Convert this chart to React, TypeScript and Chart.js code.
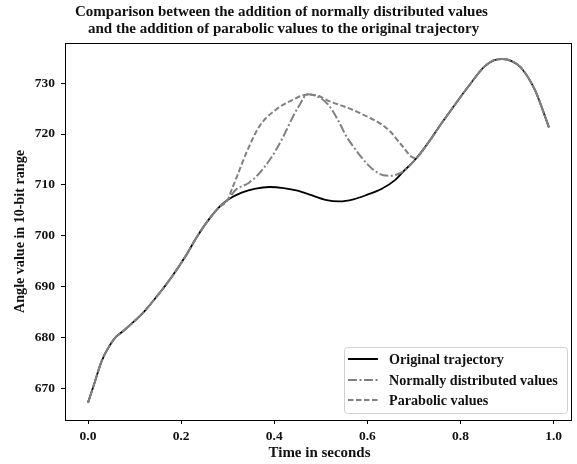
import React, { useEffect, useRef } from "react";
import { Chart, registerables } from "chart.js";

Chart.register(...registerables);

// ---- data ----
const origT = [0, 0.014, 0.029, 0.045, 0.06, 0.075, 0.09, 0.12, 0.15, 0.18, 0.21, 0.235, 0.26, 0.28, 0.30, 0.33, 0.36, 0.39, 0.42, 0.45, 0.48, 0.51, 0.54, 0.57, 0.60, 0.63, 0.66, 0.68, 0.70, 0.73, 0.76, 0.79, 0.82, 0.85, 0.87, 0.89, 0.91, 0.93, 0.96, 0.99];
const origV = [667.3, 671.2, 675.4, 678.3, 680.2, 681.3, 682.5, 685.1, 688.4, 692.0, 696.1, 700.0, 703.3, 705.5, 707.1, 708.5, 709.3, 709.6, 709.4, 708.9, 708.0, 707.1, 706.8, 707.2, 708.1, 709.2, 711.0, 712.9, 714.7, 718.2, 722.2, 726.0, 729.7, 733.1, 734.4, 734.7, 734.3, 733.0, 728.6, 721.3];

const normT = [0.318, 0.345, 0.368, 0.39, 0.404, 0.42, 0.44, 0.455, 0.471, 0.50, 0.519, 0.54, 0.555, 0.575, 0.591, 0.61, 0.634, 0.65, 0.67];
const normV = [709.1, 710.4, 712.3, 714.9, 716.9, 719.6, 723.4, 725.8, 727.8, 727.0, 725.4, 722.2, 719.5, 716.9, 715.0, 713.2, 711.9, 711.8, 712.3];

const paraT = [0.307, 0.32, 0.34, 0.368, 0.404, 0.44, 0.469, 0.49, 0.519, 0.55, 0.577, 0.60, 0.627, 0.65, 0.67, 0.702];
const paraV = [708.7, 711.7, 716.3, 721.5, 724.8, 726.7, 727.7, 727.6, 726.4, 725.4, 724.4, 723.4, 722.1, 720.4, 718.2, 715.3];

const xTicks = [0, 0.2, 0.4, 0.6, 0.8, 1.0];
const yTicks = [670, 680, 690, 700, 710, 720, 730];

const titleLines = [
  "Comparison between the addition of normally distributed values",
  "and the addition of parabolic values to the original trajectory",
];
const xTitle = "Time in seconds";
const yTitle = "Angle value in 10-bit range";
const seriesNames = ["Original trajectory", "Normally distributed values", "Parabolic values"];

const FONT = '"Liberation Serif", "Times New Roman", serif';
const GRAY = "#808080";
const DASHDOT = [9, 2.5, 2, 2.5];
const DASHED = [5.5, 2.5];

function pts(t: number[], v: number[]) {
  return t.map((x, i) => ({ x, y: v[i] }));
}
function merged(bt: number[], bv: number[]) {
  const s = bt[0], e = bt[bt.length - 1];
  const all = pts(origT, origV);
  const before = all.filter((p) => p.x < s - 0.005);
  const after = all.filter((p) => p.x > e + 0.005);
  return [...before, ...pts(bt, bv), ...after];
}

// font size so that text spans a target width
function fitSize(ctx: CanvasRenderingContext2D, text: string, target: number) {
  ctx.font = `bold 20px ${FONT}`;
  const w = ctx.measureText(text).width;
  return (20 * target) / w;
}

const deco = {
  id: "deco",
  afterDatasetsDraw(chart: any) {
    const { ctx, chartArea: a } = chart;
    ctx.save();
    ctx.strokeStyle = "#000";
    ctx.lineWidth = 1;
    ctx.strokeRect(Math.round(a.left) + 0.5, Math.round(a.top) + 0.5, Math.round(a.right - a.left) - 1, Math.round(a.bottom - a.top));
    ctx.restore();
  },
  afterDraw(chart: any) {
    const { ctx, chartArea: a } = chart;
    ctx.save();
    ctx.fillStyle = "#111";
    ctx.textBaseline = "middle";

    // title (two lines, as placed in the reference)
    const ts = fitSize(ctx, titleLines[0], 413);
    ctx.font = `bold ${ts}px ${FONT}`;
    ctx.textAlign = "left";
    ctx.fillText(titleLines[0], 75, 12);
    ctx.fillText(titleLines[1], 88, 29);

    // axis titles
    ctx.textAlign = "center";
    const xs = fitSize(ctx, xTitle, 102);
    ctx.font = `bold ${xs}px ${FONT}`;
    ctx.fillText(xTitle, 319.5, 453);
    const ys = fitSize(ctx, yTitle, 163);
    ctx.font = `bold ${ys}px ${FONT}`;
    ctx.save();
    ctx.translate(20, (a.top + a.bottom) / 2);
    ctx.rotate(-Math.PI / 2);
    ctx.fillText(yTitle, 0, 0);
    ctx.restore();

    // legend
    const bx = 344.5, by = 347.5, bw = 223, bh = 66;
    ctx.beginPath();
    (ctx as any).roundRect(bx, by, bw, bh, 3);
    ctx.fillStyle = "rgba(255,255,255,0.85)";
    ctx.fill();
    ctx.strokeStyle = "#d0d0d0";
    ctx.lineWidth = 1;
    ctx.stroke();
    const ls = fitSize(ctx, seriesNames[1], 169);
    const rows = [359, 380, 400];
    const styles = [
      { c: "#000", d: [] as number[] },
      { c: GRAY, d: DASHDOT },
      { c: GRAY, d: DASHED },
    ];
    rows.forEach((ry, i) => {
      ctx.beginPath();
      ctx.setLineDash(styles[i].d);
      ctx.strokeStyle = styles[i].c;
      ctx.lineWidth = 2;
      ctx.moveTo(348, ry);
      ctx.lineTo(378, ry);
      ctx.stroke();
      ctx.setLineDash([]);
      ctx.fillStyle = "#111";
      ctx.textAlign = "left";
      ctx.font = `bold ${ls}px ${FONT}`;
      ctx.fillText(seriesNames[i], 389, ry + 1);
    });
    ctx.restore();
  },
};

export default function App() {
  const ref = useRef<HTMLCanvasElement>(null);
  useEffect(() => {
    document.body.style.margin = "0";
    const tickFont = { family: FONT, weight: "bold" as const, size: 13.5 };
    const chart = new Chart(ref.current!, {
      type: "line",
      data: {
        datasets: [
          {
            label: seriesNames[0],
            data: pts(origT, origV),
            borderColor: "#000",
            borderWidth: 1.8,
            order: 3,
          },
          {
            label: seriesNames[1],
            data: merged(normT, normV),
            borderColor: GRAY,
            borderWidth: 2,
            borderDash: DASHDOT,
            order: 2,
          },
          {
            label: seriesNames[2],
            data: merged(paraT, paraV),
            borderColor: GRAY,
            borderWidth: 2,
            borderDash: DASHED,
            order: 1,
          },
        ],
      },
      options: {
        animation: false,
        responsive: false,
        devicePixelRatio: 1,
        elements: {
          point: { radius: 0 },
          line: { tension: 0.4, cubicInterpolationMode: "monotone", fill: false },
        },
        layout: { padding: { top: 43, right: 5, left: 0, bottom: 0 } },
        plugins: { legend: { display: false }, title: { display: false }, tooltip: { enabled: false } },
        scales: {
          x: {
            type: "linear",
            min: -0.0495,
            max: 1.0395,
            afterBuildTicks: (s: any) => {
              s.ticks = xTicks.map((v) => ({ value: v }));
            },
            afterFit: (s: any) => {
              s.height = 44;
            },
            ticks: {
              font: tickFont,
              color: "#111",
              padding: 4,
              maxRotation: 0,
              autoSkip: false,
              callback: (v: any) => Number(v).toFixed(1),
            },
            grid: { display: true, drawOnChartArea: false, drawTicks: true, tickLength: 4, color: "#000" },
            border: { display: false },
          },
          y: {
            type: "linear",
            min: 663.9,
            max: 737.85,
            afterBuildTicks: (s: any) => {
              s.ticks = yTicks.map((v) => ({ value: v }));
            },
            afterFit: (s: any) => {
              s.width = 65;
            },
            ticks: {
              font: tickFont,
              color: "#111",
              padding: 6,
              autoSkip: false,
              callback: (v: any) => String(v),
            },
            grid: { display: true, drawOnChartArea: false, drawTicks: true, tickLength: 4, color: "#000" },
            border: { display: false },
          },
        },
      },
      plugins: [deco],
    });
    return () => chart.destroy();
  }, []);
  return <canvas ref={ref} width={577} height={464} style={{ display: "block" }} />;
}
